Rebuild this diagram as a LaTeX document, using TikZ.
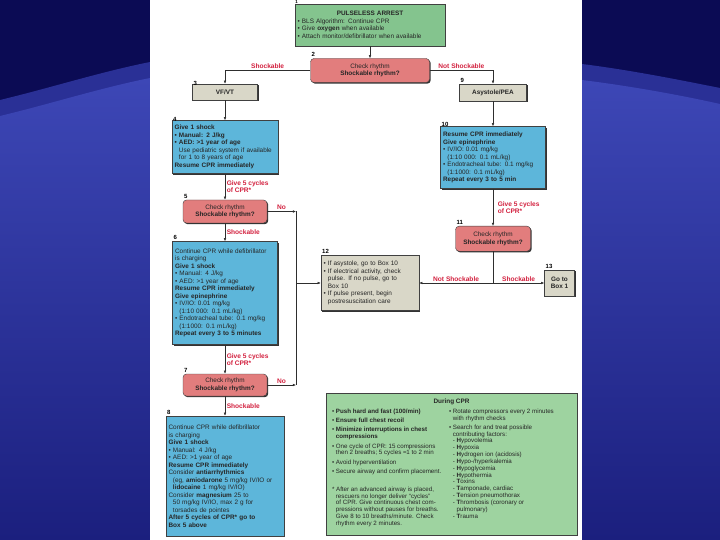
\documentclass[tikz,border=0pt]{standalone}
\usepackage{fontspec}
\setmainfont{Liberation Sans}
\usetikzlibrary{arrows.meta}
\usetikzlibrary{positioning}
\usetikzlibrary{shadows}
\usepackage{xcolor}
\definecolor{slidenavy}{HTML}{0B0B54}
\definecolor{slideband}{HTML}{2A3096}
\definecolor{slidelight}{HTML}{3D47B6}
\definecolor{slidedeep}{HTML}{1B1F7E}
\definecolor{startgreen}{HTML}{84C48E}
\definecolor{cprgreen}{HTML}{9ED3A0}
\definecolor{checkred}{HTML}{E27D7D}
\definecolor{rhythmgrey}{HTML}{D9D7C8}
\definecolor{actionblue}{HTML}{5DB6DA}
\definecolor{labelred}{HTML}{D3213F}
\definecolor{inkgrey}{HTML}{2E2E2E}
\newcommand{\bul}{\textbullet\ }
\newcommand{\ind}{\hphantom{\textbullet\ }}

\begin{document}
\begin{tikzpicture}[x=1pt, y=-1pt,
  boxfont/.style={font=\fontsize{6.4}{7.5}\selectfont},
  flowbox/.style={draw=black!75, line width=0.4pt, inner sep=2.6pt, boxfont, text=black!85,
    drop shadow={shadow xshift=1.2pt, shadow yshift=-1.2pt, fill=black!80, opacity=1}},
  startbox/.style={flowbox, fill=startgreen, align=left},
  checkbox/.style={flowbox, fill=checkred, rounded corners=3.5pt, align=center,
    minimum width=84pt, minimum height=23pt},
  rhythmbox/.style={flowbox, fill=rhythmgrey, align=center, font=\fontsize{6.4}{7.5}\selectfont\bfseries},
  actionbox/.style={flowbox, fill=actionblue, align=left},
  notebox/.style={flowbox, fill=rhythmgrey, align=left},
  cprbox/.style={flowbox, fill=cprgreen},
  cprtext/.style={font=\fontsize{6.2}{6.85}\selectfont, text=black!85, align=left,
    inner sep=0pt, anchor=north west},
  arrow/.style={-{Latex[length=3.2pt, width=2.6pt]}, draw=inkgrey, line width=0.5pt},
  wire/.style={draw=inkgrey, line width=0.5pt},
  caselabel/.style={font=\fontsize{6.6}{7}\selectfont\bfseries, text=labelred, align=left, inner sep=1.5pt},
  num/.style={font=\fontsize{6}{6}\selectfont\bfseries, anchor=south west, inner sep=1.2pt},
]
\useasboundingbox (0,0) rectangle (720,540);
% --- slide background ---
\fill[slidenavy] (0,0) rectangle (720,540);
\fill[slideband] (0,100) .. controls (50,88) and (100,72) .. (150,62) -- (150,540) -- (0,540) -- cycle;
\shade[top color=slidelight, bottom color=slidedeep] (0,116) .. controls (50,104) and (100,88) .. (150,78) -- (150,540) -- (0,540) -- cycle;
\fill[slideband] (582,64) .. controls (630,70) and (680,80) .. (720,88) -- (720,540) -- (582,540) -- cycle;
\shade[top color=slidelight, bottom color=slidedeep] (582,80) .. controls (630,86) and (680,95) .. (720,104) -- (720,540) -- (582,540) -- cycle;
\fill[white] (150,0) rectangle (582,540);

% --- top: arrest and first rhythm check ---
\node[startbox, text width=144.8pt, minimum height=42pt] (arrest) at (370,25) {%
  \makebox[\linewidth]{\bfseries PULSELESS ARREST}\\
  \bul BLS Algorithm: Continue CPR\\
  \bul Give \textbf{oxygen} when available\\
  \bul Attach monitor/defibrillator when available};
\node[checkbox, minimum width=119pt, minimum height=24pt] (check) at (370,70.5) {Check rhythm\\\textbf{Shockable rhythm?}};
\node[rhythmbox, minimum width=65pt, minimum height=16pt] (vfvt) at (225,92) {VF/VT};
\node[rhythmbox, minimum width=67pt, minimum height=17pt] (asys) at (493,92.5) {Asystole/PEA};
\draw[arrow] (arrest) -- (check);
\draw[arrow] (check.west) -| node[caselabel, above, pos=0.25] {Shockable} (vfvt.north);
\draw[arrow] (check.east) -| node[caselabel, above, pos=0.25] {Not Shockable} (asys.north);

% --- left column: shockable ---
\node[actionbox, text width=100.8pt, minimum height=53pt] (shockone) at (225,147) {%
  \textbf{Give 1 shock}\\
  \textbf{\bul Manual: 2 J/kg}\\
  \textbf{\bul AED: >1 year of age}\\
  \ind Use pediatric system if available\\
  \ind for 1 to 8 years of age\\
  \textbf{Resume CPR immediately}};
\node[checkbox] (checkfive) at (225,211.5) {Check rhythm\\\textbf{Shockable rhythm?}};
\node[actionbox, text width=99.8pt, minimum height=103pt] (shocktwo) at (225,293) {%
  Continue CPR while defibrillator\\
  is charging\\
  \textbf{Give 1 shock}\\
  \bul Manual: 4 J/kg\\
  \bul AED: >1 year of age\\
  \textbf{Resume CPR immediately}\\
  \textbf{Give epinephrine}\\
  \bul IV/IO: 0.01 mg/kg\\
  \ind (1:10 000: 0.1 mL/kg)\\
  \bul Endotracheal tube: 0.1 mg/kg\\
  \ind (1:1000: 0.1 mL/kg)\\
  \textbf{Repeat every 3 to 5 minutes}};
\node[checkbox, minimum height=22pt] (checkseven) at (225,385) {Check rhythm\\\textbf{Shockable rhythm?}};
\node[actionbox, text width=112.8pt, minimum height=120pt] (shockthree) at (225,476) {%
  Continue CPR while defibrillator\\
  is charging\\
  \textbf{Give 1 shock}\\
  \bul Manual: 4 J/kg\\
  \bul AED: >1 year of age\\
  \textbf{Resume CPR immediately}\\
  Consider \textbf{antiarrhythmics}\\
  \ind (eg, \textbf{amiodarone} 5 mg/kg IV/IO or\\
  \ind \textbf{lidocaine} 1 mg/kg IV/IO)\\
  Consider \textbf{magnesium} 25 to\\
  \ind 50 mg/kg IV/IO, max 2 g for\\
  \ind torsades de pointes\\
  \textbf{After 5 cycles of CPR* go to}\\
  \textbf{Box 5 above}};
\draw[arrow] (vfvt) -- (shockone);
\draw[arrow] (shockone) -- node[caselabel, right] {Give 5 cycles\\of CPR*} (checkfive);
\draw[arrow] (checkfive) -- node[caselabel, right] {Shockable} (shocktwo);
\draw[arrow] (shocktwo) -- node[caselabel, right] {Give 5 cycles\\of CPR*} (checkseven);
\draw[arrow] (checkseven) -- node[caselabel, right] {Shockable} (shockthree);

% --- right column: not shockable ---
\node[actionbox, text width=99.8pt, minimum height=62pt] (epiasys) at (493,157.5) {%
  \textbf{Resume CPR immediately}\\
  \textbf{Give epinephrine}\\
  \bul IV/IO: 0.01 mg/kg\\
  \ind (1:10 000: 0.1 mL/kg)\\
  \bul Endotracheal tube: 0.1 mg/kg\\
  \ind (1:1000: 0.1 mL/kg)\\
  \textbf{Repeat every 3 to 5 min}};
\node[checkbox, minimum width=75pt, minimum height=25pt] (checkeleven) at (493,238.7) {Check rhythm\\\textbf{Shockable rhythm?}};
\node[notebox, text width=92.8pt, minimum height=55pt] (pulsecheck) at (370,283) {%
  \bul If asystole, go to Box 10\\
  \bul If electrical activity, check\\
  \ind pulse. If no pulse, go to\\
  \ind Box 10\\
  \bul If pulse present, begin\\
  \ind postresuscitation care};
\node[rhythmbox, minimum width=30pt, minimum height=26pt, inner sep=1pt] (gotoone) at (559.5,283) {Go to\\Box 1};
\draw[arrow] (asys) -- (epiasys);
\draw[arrow] (epiasys) -- node[caselabel, right, xshift=3pt] {Give 5 cycles\\of CPR*} (checkeleven);
\coordinate (split) at (checkeleven |- pulsecheck);
\draw[wire] (checkeleven) -- (split);
\draw[arrow] (split) -- node[caselabel, above] {Not Shockable} (pulsecheck);
\draw[arrow] (split) -- node[caselabel, above] {Shockable} (gotoone);

% --- "No" branches into box 12 ---
\coordinate (nofive) at (296,211.5);
\coordinate (noseven) at (296,385);
\draw[arrow] (checkfive) -- node[caselabel, above] {No} (nofive);
\draw[arrow] (checkseven) -- node[caselabel, above] {No} (noseven);
\draw[wire] (nofive) -- (noseven);
\draw[arrow] (nofive |- pulsecheck) -- (pulsecheck);

% --- box numbers ---
\node[num, font=\fontsize{4.4}{4.4}\selectfont\bfseries, inner sep=0.3pt] at (arrest.north west) {1};
\node[num] at (check.north west) {2};
\node[num] at ([yshift=-3pt]vfvt.north west) {3};
\node[num] at (asys.north west) {9};
\node[num] at ([yshift=-3pt]shockone.north west) {4};
\node[num] at ([yshift=-2pt]epiasys.north west) {10};
\node[num] at (checkfive.north west) {5};
\node[num] at (checkeleven.north west) {11};
\node[num] at (shocktwo.north west) {6};
\node[num] at (pulsecheck.north west) {12};
\node[num] at (gotoone.north west) {13};
\node[num] at (checkseven.north west) {7};
\node[num] at (shockthree.north west) {8};

% --- during CPR panel ---
\node[cprbox, minimum width=251pt, minimum height=142pt] (duringcpr) at (451.5,464) {};
\node[font=\fontsize{6.4}{7}\selectfont\bfseries, text=black!85, below=3pt of duringcpr.north] (cprtitle) {During CPR};
\node[cprtext] (cprleft) at ([shift={(6,16)}]duringcpr.north west) {%
  \bul \textbf{Push hard and fast (100/min)}\\[2.4pt]
  \bul \textbf{Ensure full chest recoil}\\[2.4pt]
  \bul \textbf{Minimize interruptions in chest}\\
  \ind \textbf{compressions}\\[2.4pt]
  \bul One cycle of CPR: 15 compressions\\
  \ind then 2 breaths; 5 cycles ≈1 to 2 min\\[2.4pt]
  \bul Avoid hyperventilation\\[2.4pt]
  \bul Secure airway and confirm placement.\\[11pt]
  * After an advanced airway is placed,\\
  \ind rescuers no longer deliver ``cycles''\\
  \ind of CPR. Give continuous chest com-\\
  \ind pressions without pauses for breaths.\\
  \ind Give 8 to 10 breaths/minute. Check\\
  \ind rhythm every 2 minutes.};
\node[cprtext] (cprright) at ([shift={(123,16)}]duringcpr.north west) {%
  \bul Rotate compressors every 2 minutes\\
  \ind with rhythm checks\\[2pt]
  \bul Search for and treat possible\\
  \ind contributing factors:\\
  \ind - \textbf{H}ypovolemia\\
  \ind - \textbf{H}ypoxia\\
  \ind - \textbf{H}ydrogen ion (acidosis)\\
  \ind - \textbf{H}ypo-/hyperkalemia\\
  \ind - \textbf{H}ypoglycemia\\
  \ind - \textbf{H}ypothermia\\
  \ind - \textbf{T}oxins\\
  \ind - \textbf{T}amponade, cardiac\\
  \ind - \textbf{T}ension pneumothorax\\
  \ind - \textbf{T}hrombosis (coronary or\\
  \ind \phantom{- }pulmonary)\\
  \ind - \textbf{T}rauma};
\end{tikzpicture}
\end{document}
